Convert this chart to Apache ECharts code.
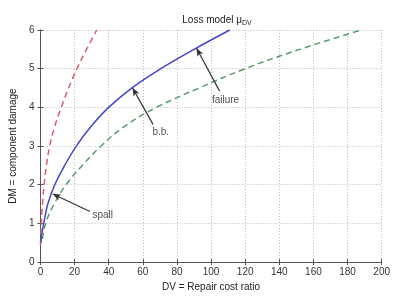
<!DOCTYPE html>
<html>
<head>
<meta charset="utf-8">
<script src="https://cdn.jsdelivr.net/npm/echarts@6/dist/echarts.min.js"></script>
<style>
  html, body { margin: 0; padding: 0; background: #fff; }
  #chart { width: 393px; height: 297px; }
</style>
</head>
<body>
<div id="chart"></div>
<script>
// curves: [DV, DM]
var spallCurve = [[0, 0.45], [0.5, 1.0], [1.2, 1.5], [2.1, 2.0], [3.5, 2.5], [5.4, 3.0], [8.3, 3.5], [12.2, 4.0], [16.5, 4.5], [21.4, 5.0], [27, 5.5], [33, 6.0]]
var bbCurve = [[0.3, 0.5], [0.9, 0.75], [1.9, 1.0], [4.3, 1.5], [8.4, 2.0], [14.2, 2.5], [21, 3.0], [29.5, 3.5], [40, 4.0], [53.5, 4.5], [70.5, 5.0], [90, 5.5], [111, 6.0]]
var failCurve = [[1.2, 0.6], [3, 1.0], [8, 1.5], [15, 2.0], [24.5, 2.5], [35.5, 3.0], [49, 3.5], [68, 4.0], [93, 4.5], [120, 5.0], [152, 5.5], [188, 6.0]]

// annotations: text position, arrow tail, arrow head
var annotText = [[36.5, 1.2, 'spall'], [70.5, 3.36, 'b.b.'], [108.5, 4.19, 'failure']]
var annotTail = [[29, 1.31], [66, 3.56], [105, 4.42]]
var annotHead = [[7.2, 1.76], [54, 4.5], [91.5, 5.53]]

var xTicks = [0, 20, 40, 60, 80, 100, 120, 140, 160, 180, 200]
var yTicks = [0, 1, 2, 3, 4, 5, 6]

var font = 'Liberation Sans, Arial, sans-serif'
var chart = echarts.init(document.getElementById('chart'))

var arrows = []
for (var i = 0; i < annotTail.length; i++) {
  arrows.push([{ coord: annotTail[i] }, { coord: annotHead[i] }])
}

var axisCommon = {
  axisLine: { show: true, lineStyle: { color: '#555', width: 1 } },
  axisTick: { show: true, inside: true, length: 3, lineStyle: { color: '#555' } },
  splitLine: { show: false }
}

var opt = {
  animation: false,
  title: {
    text: '{a|Loss model μ}{b|DV}',
    left: 212,
    top: 9,
    textAlign: 'center',
    textStyle: {
      fontWeight: 'normal',
      rich: {
        a: { fontFamily: font, fontSize: 10, color: '#222', fontWeight: 'normal' },
        b: { fontFamily: font, fontSize: 7, color: '#222', fontWeight: 'normal', padding: [6, 0, 0, 0] }
      }
    }
  },
  grid: { left: 40, right: 10, top: 30, bottom: 29 },
  xAxis: [
    Object.assign({}, axisCommon, {
      type: 'value', min: xTicks[0], max: xTicks[xTicks.length - 1], interval: 20,
      name: 'DV = Repair cost ratio', nameLocation: 'middle', nameGap: 17,
      nameTextStyle: { fontFamily: font, fontSize: 10, color: '#222' },
      axisLabel: { fontFamily: font, fontSize: 10, color: '#333', margin: 5 },
      splitLine: { show: true, lineStyle: { color: '#bbb', type: [1, 2], width: 1 } }
    }),
    Object.assign({}, axisCommon, {
      type: 'value', position: 'top', min: 0, max: 200, interval: 20,
      axisLabel: { show: false }
    })
  ],
  yAxis: [
    Object.assign({}, axisCommon, {
      type: 'value', min: yTicks[0], max: yTicks[yTicks.length - 1], interval: 1,
      name: 'DM = component damage', nameLocation: 'middle', nameGap: 14,
      nameTextStyle: { fontFamily: font, fontSize: 10, color: '#222' },
      axisLabel: { fontFamily: font, fontSize: 10, color: '#333', margin: 6 },
      splitLine: { show: true, lineStyle: { color: '#bbb', type: [1, 2], width: 1 } }
    }),
    Object.assign({}, axisCommon, {
      type: 'value', position: 'right', min: 0, max: 6, interval: 1,
      axisLabel: { show: false }
    })
  ],
  series: [
    {
      name: 'spall', type: 'line', data: spallCurve, smooth: 0.4, showSymbol: false,
      lineStyle: { color: '#e05a6c', width: 1.5, type: [6, 4] }
    },
    {
      name: 'b.b.', type: 'line', data: bbCurve, smooth: 0.4, showSymbol: false,
      lineStyle: { color: '#4646c8', width: 1.5 },
      markLine: {
        silent: true,
        symbol: ['none', 'arrow'],
        symbolSize: [5, 8],
        lineStyle: { color: '#333', width: 1.2, type: 'solid' },
        label: { show: false },
        data: arrows
      }
    },
    {
      name: 'failure', type: 'line', data: failCurve, smooth: 0.4, showSymbol: false,
      lineStyle: { color: '#5c9a6c', width: 1.5, type: [6, 4] }
    },
    {
      name: 'labels', type: 'scatter', data: annotText, symbolSize: 0,
      label: {
        show: true, position: 'inside',
        formatter: function (p) { return p.data[2] },
        fontFamily: font, fontSize: 10, color: '#222'
      }
    }
  ]
}
chart.setOption(opt)
</script>
</body>
</html>
